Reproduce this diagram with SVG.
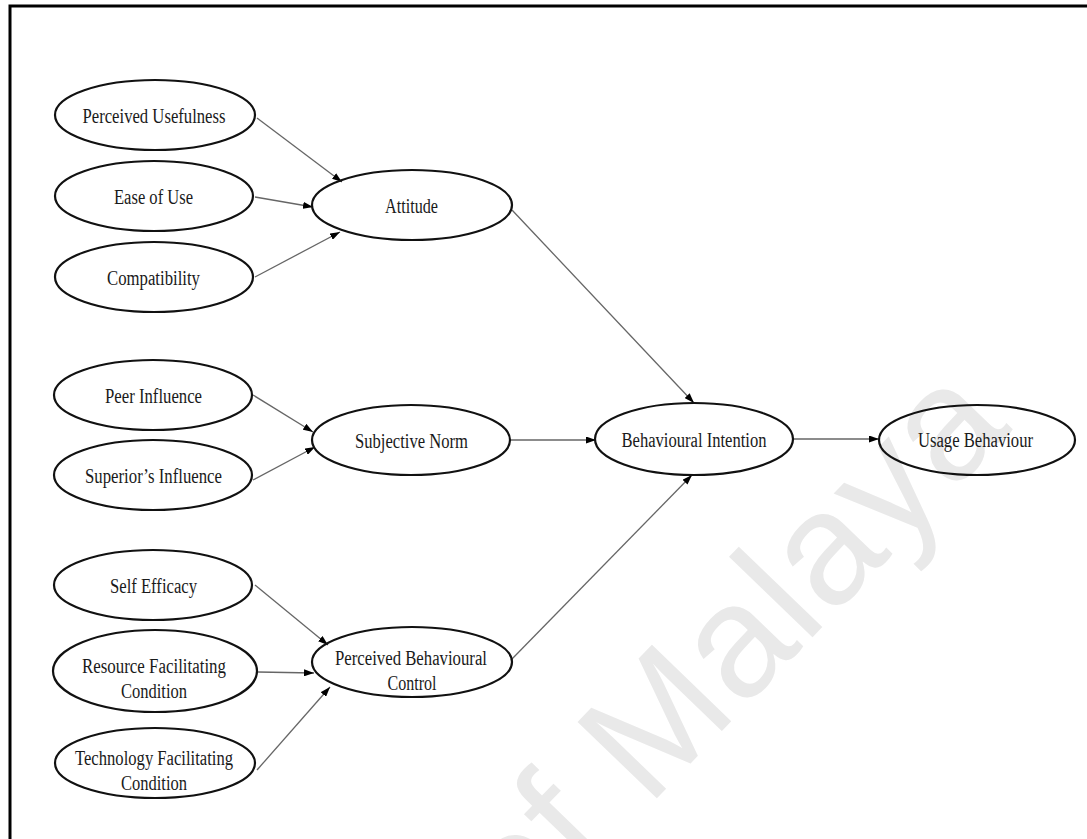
<svg xmlns="http://www.w3.org/2000/svg" width="1087" height="839" viewBox="0 0 1087 839">
  <defs>
    <marker id="arrow" viewBox="0 0 10 7" refX="10" refY="3.5" markerWidth="10" markerHeight="7" markerUnits="userSpaceOnUse" orient="auto">
      <path d="M0,0 L10,3.5 L0,7 z" fill="#000"/>
    </marker>
  </defs>
  <style>
    .node ellipse { fill: none; stroke: #111; stroke-width: 2.2; }
    .node text { font-family: "Liberation Serif", "Times New Roman", serif; font-size: 20px; fill: #1a1a1a; text-anchor: middle; }
    .edge { stroke: #666; stroke-width: 1.3; fill: none; marker-end: url(#arrow); }
    .mark { font-family: "Liberation Sans", Arial, sans-serif; font-size: 160px; letter-spacing: 2px; fill: #e9e9e9; }
  </style>

  <rect width="1087" height="839" fill="#fff"/>
  <!-- page frame -->
  <rect x="10" y="6" width="1200" height="900" fill="none" stroke="#000" stroke-width="3"/>

  <!-- background watermark -->
  <text class="mark" transform="translate(520,940) rotate(-46)">of Malaya</text>

  <g id="connectors">
    <line class="edge" x1="257" y1="118" x2="342" y2="182"/>
    <line class="edge" x1="255" y1="197" x2="313" y2="207"/>
    <line class="edge" x1="255" y1="277" x2="340" y2="232"/>
    <line class="edge" x1="512" y1="210" x2="694" y2="403"/>
    <line class="edge" x1="253" y1="395" x2="313" y2="432"/>
    <line class="edge" x1="253" y1="480" x2="315" y2="447"/>
    <line class="edge" x1="510" y1="440" x2="596" y2="440"/>
    <line class="edge" x1="793" y1="439" x2="879" y2="439"/>
    <line class="edge" x1="255" y1="585" x2="328" y2="645"/>
    <line class="edge" x1="258" y1="672" x2="314" y2="673"/>
    <line class="edge" x1="257" y1="770" x2="330" y2="687"/>
    <line class="edge" x1="511" y1="660" x2="692" y2="475"/>
  </g>

  <g id="perceived-usefulness" class="node">
    <ellipse cx="155" cy="115" rx="100" ry="35"/>
    <text x="154" y="123" textLength="143" lengthAdjust="spacingAndGlyphs">Perceived Usefulness</text>
  </g>
  <g id="ease-of-use" class="node">
    <ellipse cx="154" cy="196" rx="99" ry="35"/>
    <text x="153.5" y="204" textLength="79" lengthAdjust="spacingAndGlyphs">Ease of Use</text>
  </g>
  <g id="compatibility" class="node">
    <ellipse cx="154" cy="277" rx="99" ry="35"/>
    <text x="153.5" y="285" textLength="93" lengthAdjust="spacingAndGlyphs">Compatibility</text>
  </g>
  <g id="attitude" class="node">
    <ellipse cx="412" cy="205" rx="100" ry="35"/>
    <text x="411.5" y="213" textLength="53" lengthAdjust="spacingAndGlyphs">Attitude</text>
  </g>
  <g id="peer-influence" class="node">
    <ellipse cx="153" cy="395" rx="99" ry="35"/>
    <text x="153.5" y="403" textLength="97" lengthAdjust="spacingAndGlyphs">Peer Influence</text>
  </g>
  <g id="superiors-influence" class="node">
    <ellipse cx="153" cy="475" rx="99" ry="35"/>
    <text x="153.5" y="483" textLength="137" lengthAdjust="spacingAndGlyphs">Superior’s Influence</text>
  </g>
  <g id="subjective-norm" class="node">
    <ellipse cx="411" cy="440" rx="99" ry="35"/>
    <text x="411.5" y="448" textLength="113" lengthAdjust="spacingAndGlyphs">Subjective Norm</text>
  </g>
  <g id="behavioural-intention" class="node">
    <ellipse cx="694" cy="439" rx="99" ry="36"/>
    <text x="694" y="447" textLength="145" lengthAdjust="spacingAndGlyphs">Behavioural Intention</text>
  </g>
  <g id="usage-behaviour" class="node">
    <ellipse cx="977" cy="440" rx="98" ry="35"/>
    <text x="975.5" y="447" textLength="115" lengthAdjust="spacingAndGlyphs">Usage Behaviour</text>
  </g>
  <g id="self-efficacy" class="node">
    <ellipse cx="153" cy="585" rx="99" ry="35"/>
    <text x="153.5" y="593" textLength="87" lengthAdjust="spacingAndGlyphs">Self Efficacy</text>
  </g>
  <g id="resource-facilitating-condition" class="node">
    <ellipse cx="155" cy="671" rx="102" ry="41"/>
    <text x="154" y="673" textLength="144" lengthAdjust="spacingAndGlyphs">Resource Facilitating</text>
    <text x="154" y="698" textLength="66" lengthAdjust="spacingAndGlyphs">Condition</text>
  </g>
  <g id="technology-facilitating-condition" class="node">
    <ellipse cx="155" cy="763" rx="100" ry="35"/>
    <text x="154" y="765" textLength="158" lengthAdjust="spacingAndGlyphs">Technology Facilitating</text>
    <text x="154" y="790" textLength="66" lengthAdjust="spacingAndGlyphs">Condition</text>
  </g>
  <g id="perceived-behavioural-control" class="node">
    <ellipse cx="412" cy="662" rx="100" ry="35"/>
    <text x="411" y="665" textLength="152" lengthAdjust="spacingAndGlyphs">Perceived Behavioural</text>
    <text x="412" y="690" textLength="49" lengthAdjust="spacingAndGlyphs">Control</text>
  </g>
</svg>
